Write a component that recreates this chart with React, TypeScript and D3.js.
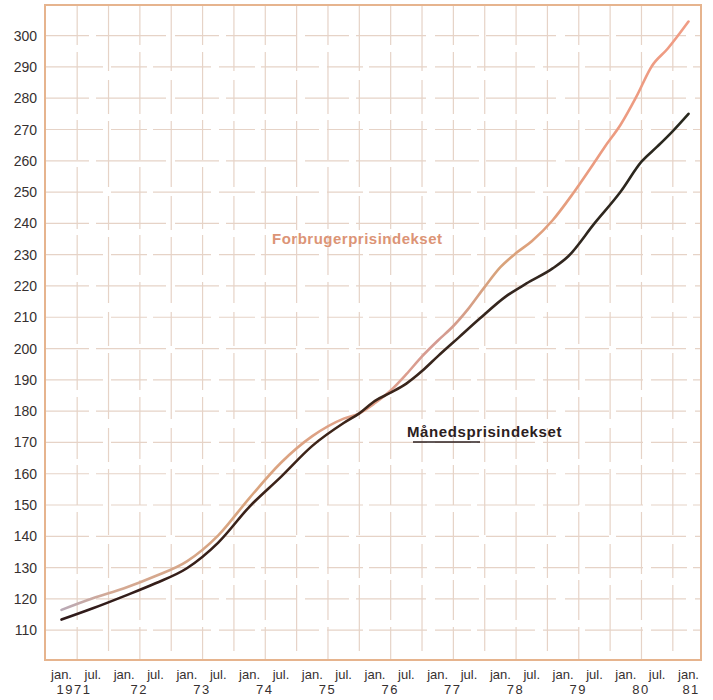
import React from "react";
import * as d3 from "d3";

// Months counted from January 1971
const forbrugerMonths = [0, 6, 12, 18, 24, 30, 36, 42, 48, 54, 57, 60, 63, 66, 69, 72, 75, 78, 81, 84, 87, 90, 94, 98, 102, 104, 107, 110, 113, 116, 120];
const forbrugerValues = [116.5, 120.2, 123.4, 127.3, 132.0, 140.3, 152.3, 163.5, 172.0, 177.6, 179.3, 182.6, 186.6, 191.8, 197.5, 202.5, 207.2, 213.0, 219.7, 226.0, 230.5, 234.3, 241.0, 249.8, 259.5, 264.5, 271.5, 280.4, 290.3, 295.8, 304.5];

const maanedMonths = [0, 6, 12, 18, 24, 30, 36, 42, 48, 54, 57, 60, 63, 66, 69, 72, 76, 80, 85, 89, 94, 97, 102, 107, 111, 114, 117, 120];
const maanedValues = [113.4, 117.0, 120.9, 125.0, 129.8, 138.0, 149.5, 159.0, 168.9, 176.2, 179.3, 183.3, 185.9, 188.8, 192.8, 197.5, 203.5, 209.5, 216.6, 220.8, 225.6, 229.5, 240.0, 250.1, 259.7, 264.5, 269.5, 275.0];

const yTicks = [110, 120, 130, 140, 150, 160, 170, 180, 190, 200, 210, 220, 230, 240, 250, 260, 270, 280, 290, 300];
const monthLabels = ["jan.", "jul."];
const yearLabels = ["1971", "72", "73", "74", "75", "76", "77", "78", "79", "80", "81"];

const seriesNames = ["Forbrugerprisindekset", "Månedsprisindekset"];

export default function App() {
  const W = 713;
  const H = 700;
  const frame = { left: 45, right: 701, top: 5, bottom: 660 };

  const x = d3.scaleLinear().domain([0, 120]).range([61.5, 688.5]);
  const y = d3.scaleLinear().domain([100, 310]).range([661.5, 4.3]);

  const line = d3
    .line<[number, number]>()
    .x((d) => x(d[0]))
    .y((d) => y(d[1]))
    .curve(d3.curveMonotoneX);

  const fData: [number, number][] = forbrugerMonths.map((m, i) => [m, forbrugerValues[i]]);
  const mData: [number, number][] = maanedMonths.map((m, i) => [m, maanedValues[i]]);

  const halfYears = d3.range(0, 121, 6);
  const vGrid = d3.range(3, 120, 6);
  const years = d3.range(0, 121, 12);

  const gridColor = "#e6d3c7";
  const textColor = "#363030";
  const font = "'Liberation Sans', Arial, Helvetica, sans-serif";

  return (
    <svg
      width={W}
      height={H}
      viewBox={`0 0 ${W} ${H}`}
      style={{ position: "absolute", left: 0, top: 0, background: "#ffffff" }}
    >
      <defs>
        <linearGradient id="fGrad" gradientUnits="userSpaceOnUse" x1={x(0)} y1={0} x2={x(120)} y2={0}>
          <stop offset="0%" stopColor="#b9a9b6" />
          <stop offset="8%" stopColor="#d4a994" />
          <stop offset="30%" stopColor="#d9a47e" />
          <stop offset="50%" stopColor="#e2a08a" />
          <stop offset="60%" stopColor="#d49a92" />
          <stop offset="70%" stopColor="#d8a37a" />
          <stop offset="85%" stopColor="#eb9b80" />
          <stop offset="100%" stopColor="#f09c84" />
        </linearGradient>
        <linearGradient id="mGrad" gradientUnits="userSpaceOnUse" x1={x(0)} y1={0} x2={x(120)} y2={0}>
          <stop offset="0%" stopColor="#2f1a1a" />
          <stop offset="40%" stopColor="#3e2418" />
          <stop offset="75%" stopColor="#33261f" />
          <stop offset="100%" stopColor="#28281e" />
        </linearGradient>
      </defs>

      {/* horizontal grid */}
      {yTicks.map((t, i) => (
        <line
          key={`h${t}`}
          x1={frame.left}
          x2={frame.right}
          y1={y(t)}
          y2={y(t)}
          stroke={gridColor}
          strokeWidth={1.2}
          strokeDasharray={i % 2 === 0 ? "58 8 36 6" : "44 7 70 9"}
        />
      ))}
      {/* vertical grid */}
      {vGrid.map((m, i) => (
        <line
          key={`v${m}`}
          x1={x(m)}
          x2={x(m)}
          y1={frame.top}
          y2={frame.bottom}
          stroke={gridColor}
          strokeWidth={1.2}
          strokeDasharray={i % 2 === 0 ? "40 7 62 6" : "66 9 34 7"}
        />
      ))}

      {/* frame */}
      <rect
        x={frame.left}
        y={frame.top}
        width={frame.right - frame.left}
        height={frame.bottom - frame.top}
        fill="none"
        stroke="#e6b48e"
        strokeWidth={2}
      />

      {/* series */}
      <path d={line(fData) || ""} fill="none" stroke="url(#fGrad)" strokeWidth={2.6} strokeLinecap="round" />
      <path d={line(mData) || ""} fill="none" stroke="url(#mGrad)" strokeWidth={2.6} strokeLinecap="round" />

      {/* y tick labels */}
      {yTicks.map((t) => (
        <text
          key={`yt${t}`}
          x={37}
          y={y(t)}
          dy="0.36em"
          textAnchor="end"
          fontFamily={font}
          fontSize={14}
          fill={textColor}
        >
          {t}
        </text>
      ))}

      {/* x month labels */}
      {halfYears.map((m, i) => (
        <text
          key={`xm${m}`}
          x={x(m)}
          y={679}
          textAnchor="middle"
          fontFamily={font}
          fontSize={13}
          fill={textColor}
        >
          {monthLabels[i % 2]}
        </text>
      ))}
      {/* x year labels */}
      {years.map((m, i) => (
        <text
          key={`xy${m}`}
          x={x(i === years.length - 1 ? m + 0.5 : i === 0 ? m + 2.4 : m + 2.9)}
          y={694}
          textAnchor="middle"
          fontFamily={font}
          fontSize={13}
          letterSpacing={1.5}
          fill={textColor}
        >
          {yearLabels[i]}
        </text>
      ))}

      {/* series labels */}
      <text x={272} y={244} fontFamily={font} fontSize={15} fontWeight="bold" letterSpacing={0.5} fill="#dc9476">
        {seriesNames[0]}
      </text>
      <text x={407} y={437} fontFamily={font} fontSize={15} fontWeight="bold" letterSpacing={0.6} fill="#2c2020">
        {seriesNames[1]}
      </text>
      <line x1={413} x2={480} y1={442} y2={442} stroke="#2c2020" strokeWidth={1.5} />
    </svg>
  );
}
